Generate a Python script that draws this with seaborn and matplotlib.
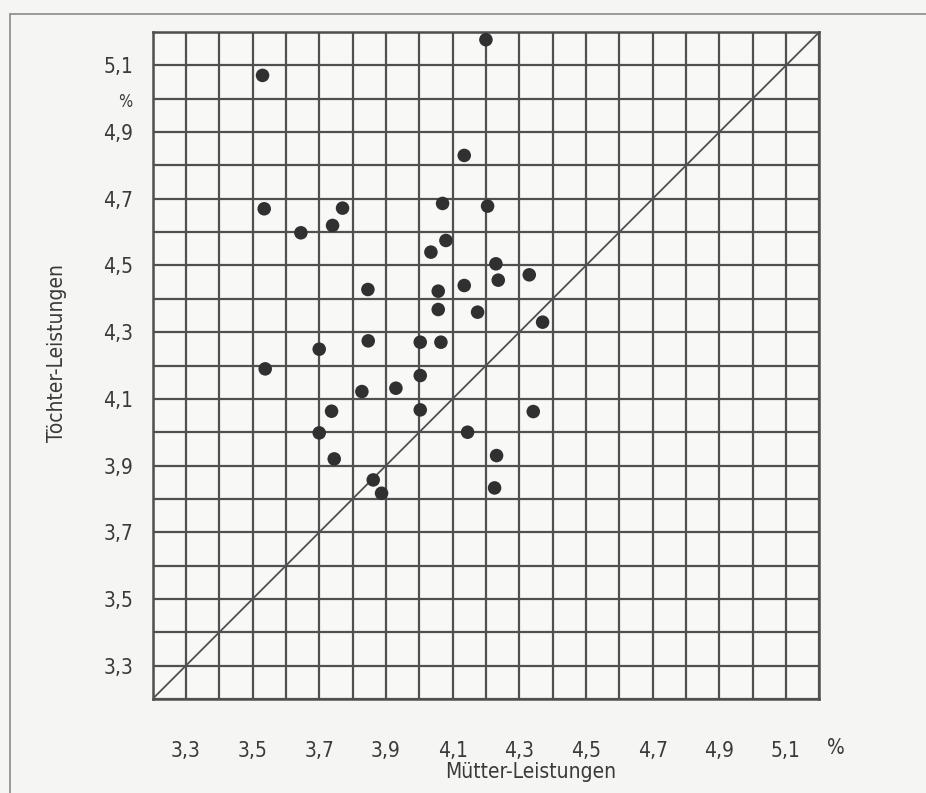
import numpy as np
import pandas as pd
import matplotlib
matplotlib.use("Agg")
import matplotlib.pyplot as plt
import matplotlib.transforms as mtransforms
from matplotlib.lines import Line2D
import seaborn as sns

# ---- data ----
mutter = [4.20, 3.53, 4.135, 3.535, 3.77, 3.74, 3.645, 4.07, 4.205, 4.08,
          4.035, 4.23, 4.33, 4.237, 4.135, 3.846, 4.057, 4.057, 4.175, 4.37,
          3.847, 4.003, 4.065, 3.70, 3.538, 4.003, 3.828, 3.93, 3.737, 4.003,
          4.342, 3.70, 4.145, 3.745, 4.232, 3.862, 3.887, 4.226]
toechter = [5.177, 5.07, 4.83, 4.67, 4.672, 4.62, 4.598, 4.686, 4.678, 4.575,
            4.54, 4.505, 4.472, 4.456, 4.44, 4.428, 4.423, 4.368, 4.36, 4.33,
            4.274, 4.27, 4.27, 4.249, 4.19, 4.17, 4.122, 4.132, 4.063, 4.067,
            4.062, 3.998, 4.0, 3.92, 3.93, 3.857, 3.817, 3.833]
tick_values = [3.3, 3.5, 3.7, 3.9, 4.1, 4.3, 4.5, 4.7, 4.9, 5.1]
tick_labels = ["3,3", "3,5", "3,7", "3,9", "4,1", "4,3", "4,5", "4,7", "4,9", "5,1"]
axis_min, axis_max, grid_step = 3.2, 5.2, 0.1
x_title = "Mütter-Leistungen"
y_title = "Töchter-Leistungen"
unit = "%"

df = pd.DataFrame({"Mütter": mutter, "Töchter": toechter})

sns.set_theme(style="white")
plt.rcParams["font.family"] = ["DejaVu Sans"]
plt.rcParams["font.stretch"] = "condensed"

bg = "#f5f5f3"
ink = "#3a3a3a"

fig = plt.figure(figsize=(9.26, 7.93), dpi=100, facecolor=bg)
ax = fig.add_axes([0.1647, 0.1185, 0.7201, 0.8411])
ax.set_facecolor("#f8f8f6")

grid_pos = np.round(np.arange(axis_min, axis_max + grid_step / 2, grid_step), 2)
ax.set_xticks(grid_pos, minor=True)
ax.set_yticks(grid_pos, minor=True)

ax.axline((axis_min, axis_min), slope=1, color="#505050", linewidth=1.3, zorder=2)

sns.scatterplot(data=df, x="Mütter", y="Töchter", ax=ax, s=95, color="#303030",
                edgecolor="none", zorder=3, legend=False)

ax.set_xlim(axis_min, axis_max)
ax.set_ylim(axis_min, axis_max)
ax.set_xticks(tick_values)
ax.set_yticks(tick_values)
ax.set_xticklabels(tick_labels, fontsize=15, color=ink)
ax.set_yticklabels(tick_labels, fontsize=15, color=ink)
ax.grid(which="both", color="#505050", linewidth=1.6)
ax.set_axisbelow(True)
ax.tick_params(axis="both", which="both", length=0)
ax.tick_params(axis="x", pad=30)
ax.tick_params(axis="y", pad=14)

for sp in ax.spines.values():
    sp.set_visible(True)
    sp.set_color("#505050")
    sp.set_linewidth(1.8)

ax.set_xlabel("")
ax.set_ylabel("")
fig.text(531 / 926, 1 - 772 / 793, x_title, ha="center", va="center",
         fontsize=15, color=ink)
fig.text(57 / 926, 1 - 353 / 793, y_title, ha="center", va="center",
         rotation=90, fontsize=15, color=ink)

# unit markers
trans_y = mtransforms.blended_transform_factory(ax.transAxes, ax.transData)
ax.text(-0.041, 4.99, unit, transform=trans_y, ha="center", va="center",
        fontsize=12, color=ink)
fig.text(836 / 926, 1 - 748 / 793, unit, ha="center", va="center",
         fontsize=15, color=ink)

# page border of the scan
fig.add_artist(Line2D([10 / 926, 10 / 926], [1 - 14 / 793, 0], transform=fig.transFigure,
                      color="#8a8a8a", linewidth=1.2))
fig.add_artist(Line2D([10 / 926, 1], [1 - 14 / 793, 1 - 14 / 793], transform=fig.transFigure,
                      color="#8a8a8a", linewidth=1.2))

fig.savefig("out.png", dpi=100, facecolor=bg)
